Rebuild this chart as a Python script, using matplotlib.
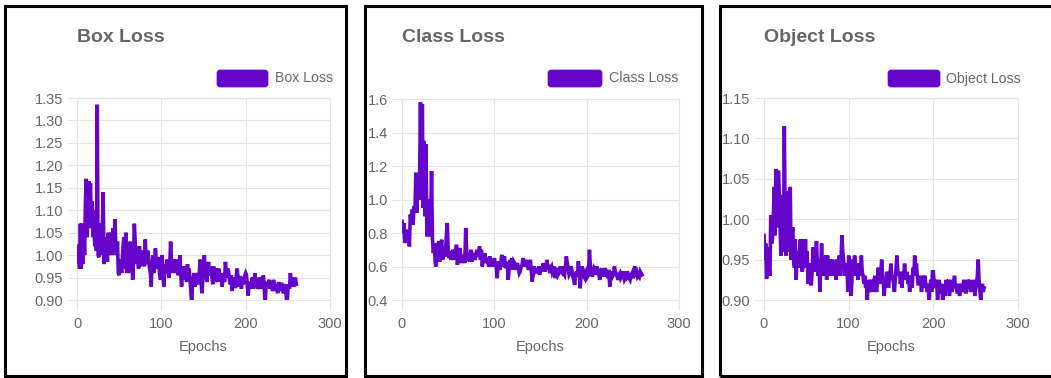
import matplotlib
matplotlib.use("Agg")
import matplotlib.pyplot as plt
from matplotlib.patches import Rectangle, FancyBboxPatch
from matplotlib.transforms import IdentityTransform

# ---------------- data (one value per epoch, epochs 0..260) ----------------
box_loss = [
    1.02, 0.98, 1.02, 0.97, 1.07, 0.97, 1.07, 0.98, 1.05, 1.00,
    1.12, 1.17, 1.04, 1.10, 1.165, 1.12, 1.16, 1.06, 1.12, 1.04,
    1.10, 1.02, 1.05, 1.01, 1.335, 1.00, 0.995, 1.07, 1.03, 1.00,
    1.05, 1.14, 0.98, 1.03, 1.00, 1.04, 0.985, 1.05, 1.00, 1.04,
    1.01, 1.05, 1.00, 1.06, 1.01, 1.08, 1.02, 1.00, 1.03, 0.96,
    0.955, 0.99, 0.98, 0.96, 1.00, 1.03, 1.04, 0.97, 1.05, 0.96,
    1.00, 0.96, 0.99, 1.03, 0.97, 1.00, 0.945, 0.99, 1.07, 1.03,
    0.98, 1.01, 1.00, 0.97, 1.02, 0.975, 1.00, 0.98, 1.01, 0.99,
    0.975, 1.035, 0.98, 1.00, 1.01, 0.99, 0.97, 0.96, 0.93, 0.975,
    1.00, 0.96, 0.98, 1.015, 0.985, 0.97, 0.995, 0.975, 0.96, 0.945,
    0.98, 1.00, 0.96, 0.93, 0.965, 0.98, 0.96, 0.99, 0.97, 0.95,
    0.98, 1.03, 0.99, 0.96, 0.97, 0.99, 0.985, 0.96, 0.99, 0.97,
    0.955, 0.975, 1.00, 0.96, 0.93, 0.96, 0.975, 0.945, 0.96, 0.975,
    0.94, 0.98, 0.955, 0.97, 0.945, 0.92, 0.89, 0.935, 0.95, 0.96,
    0.93, 0.95, 0.96, 0.94, 0.935, 0.96, 0.99, 0.95, 0.915, 0.94,
    0.96, 1.00, 0.96, 0.97, 0.94, 0.965, 0.985, 0.955, 0.96, 0.975,
    0.95, 0.935, 0.975, 0.955, 0.94, 0.97, 0.96, 0.94, 0.97, 0.955,
    0.945, 0.96, 0.93, 0.945, 0.96, 0.94, 0.985, 0.955, 0.95, 0.97,
    0.96, 0.94, 0.935, 0.955, 0.92, 0.94, 0.95, 0.93, 0.93, 0.955,
    0.97, 0.945, 0.93, 0.95, 0.95, 0.925, 0.95, 0.935, 0.94, 0.955,
    0.96, 0.955, 0.93, 0.91, 0.935, 0.94, 0.925, 0.94, 0.95, 0.925,
    0.94, 0.96, 0.935, 0.94, 0.925, 0.93, 0.95, 0.945, 0.925, 0.935,
    0.945, 0.955, 0.93, 0.89, 0.925, 0.94, 0.93, 0.94, 0.945, 0.925,
    0.94, 0.93, 0.92, 0.945, 0.935, 0.92, 0.935, 0.925, 0.915, 0.94,
    0.93, 0.92, 0.935, 0.935, 0.92, 0.915, 0.935, 0.93, 0.91, 0.89,
    0.92, 0.935, 0.925, 0.96, 0.94, 0.93, 0.95, 0.93, 0.945, 0.95,
    0.935]

class_loss = [
    0.87, 0.80, 0.86, 0.74, 0.78, 0.82, 0.76, 0.80, 0.72, 0.91,
    0.86, 0.94, 0.85, 0.96, 0.92, 1.16, 0.92, 1.15, 1.00, 1.10,
    1.58, 1.00, 1.57, 0.95, 1.35, 0.90, 1.33, 0.78, 0.92, 1.00,
    0.78, 0.85, 1.17, 0.76, 0.68, 0.74, 0.62, 0.60, 0.74, 0.66,
    0.75, 0.63, 0.72, 0.76, 0.64, 0.70, 0.72, 0.66, 0.78, 0.86,
    0.70, 0.65, 0.69, 0.64, 0.66, 0.70, 0.68, 0.64, 0.68, 0.73,
    0.61, 0.66, 0.69, 0.71, 0.62, 0.67, 0.64, 0.66, 0.62, 0.83,
    0.70, 0.64, 0.66, 0.63, 0.67, 0.70, 0.63, 0.66, 0.68, 0.64,
    0.66, 0.70, 0.66, 0.69, 0.72, 0.64, 0.70, 0.60, 0.66, 0.63,
    0.68, 0.62, 0.65, 0.62, 0.60, 0.66, 0.63, 0.60, 0.64, 0.60,
    0.65, 0.62, 0.61, 0.53, 0.60, 0.63, 0.58, 0.62, 0.67, 0.60,
    0.62, 0.66, 0.59, 0.62, 0.62, 0.52, 0.58, 0.64, 0.60, 0.65,
    0.58, 0.63, 0.62, 0.58, 0.60, 0.62, 0.59, 0.56, 0.57, 0.60,
    0.61, 0.65, 0.62, 0.60, 0.64, 0.62, 0.60, 0.58, 0.61, 0.64,
    0.58, 0.51, 0.56, 0.60, 0.57, 0.58, 0.58, 0.56, 0.60, 0.55,
    0.58, 0.60, 0.57, 0.62, 0.59, 0.57, 0.60, 0.64, 0.58, 0.61,
    0.56, 0.59, 0.60, 0.56, 0.57, 0.60, 0.53, 0.57, 0.59, 0.55,
    0.56, 0.60, 0.58, 0.57, 0.60, 0.56, 0.55, 0.60, 0.66, 0.62,
    0.59, 0.55, 0.56, 0.60, 0.58, 0.54, 0.52, 0.49, 0.55, 0.57,
    0.54, 0.63, 0.56, 0.47, 0.55, 0.60, 0.58, 0.54, 0.53, 0.57,
    0.58, 0.54, 0.55, 0.70, 0.60, 0.58, 0.54, 0.56, 0.59, 0.58,
    0.55, 0.60, 0.55, 0.58, 0.52, 0.56, 0.59, 0.55, 0.57, 0.54,
    0.59, 0.57, 0.56, 0.53, 0.58, 0.48, 0.55, 0.57, 0.54, 0.55,
    0.60, 0.57, 0.56, 0.54, 0.52, 0.55, 0.56, 0.53, 0.54, 0.57,
    0.55, 0.52, 0.53, 0.57, 0.54, 0.55, 0.53, 0.52, 0.55, 0.56,
    0.53, 0.55, 0.60, 0.56, 0.57, 0.54, 0.55, 0.54, 0.57, 0.56,
    0.55]

object_loss = [
    0.98, 0.95, 0.97, 0.926, 0.94, 0.965, 0.94, 0.93, 1.005, 0.97,
    0.975, 1.00, 1.04, 0.98, 1.062, 1.00, 0.99, 1.06, 1.035, 0.99,
    0.955, 1.02, 1.03, 0.96, 1.115, 1.00, 0.955, 1.00, 0.99, 1.035,
    0.96, 1.04, 0.95, 0.98, 0.99, 0.95, 0.94, 0.975, 0.925, 0.96,
    0.94, 0.955, 0.96, 0.975, 0.95, 0.935, 0.94, 0.975, 0.95, 0.975,
    0.94, 0.96, 0.92, 0.945, 0.935, 0.92, 0.92, 0.94, 0.965, 0.935,
    0.94, 0.955, 0.973, 0.945, 0.93, 0.95, 0.91, 0.94, 0.97, 0.94,
    0.95, 0.93, 0.94, 0.955, 0.925, 0.955, 0.935, 0.93, 0.95, 0.945,
    0.93, 0.95, 0.935, 0.93, 0.945, 0.925, 0.95, 0.93, 0.945, 0.955,
    0.93, 0.95, 0.98, 0.96, 0.95, 0.93, 0.94, 0.93, 0.945, 0.91,
    0.955, 0.93, 0.945, 0.905, 0.93, 0.95, 0.93, 0.955, 0.94, 0.93,
    0.945, 0.925, 0.935, 0.945, 0.93, 0.955, 0.935, 0.93, 0.92, 0.93,
    0.915, 0.92, 0.90, 0.92, 0.925, 0.91, 0.915, 0.925, 0.92, 0.91,
    0.925, 0.93, 0.915, 0.91, 0.925, 0.94, 0.925, 0.92, 0.935, 0.95,
    0.93, 0.92, 0.905, 0.925, 0.92, 0.935, 0.93, 0.915, 0.925, 0.935,
    0.945, 0.925, 0.93, 0.92, 0.91, 0.925, 0.94, 0.955, 0.935, 0.93,
    0.935, 0.92, 0.925, 0.915, 0.935, 0.925, 0.945, 0.93, 0.925, 0.935,
    0.92, 0.93, 0.91, 0.925, 0.93, 0.915, 0.94, 0.93, 0.955, 0.93,
    0.945, 0.93, 0.92, 0.92, 0.93, 0.925, 0.91, 0.92, 0.93, 0.915,
    0.93, 0.92, 0.915, 0.91, 0.92, 0.895, 0.915, 0.925, 0.91, 0.935,
    0.935, 0.92, 0.915, 0.925, 0.92, 0.90, 0.915, 0.925, 0.91, 0.91,
    0.92, 0.895, 0.91, 0.915, 0.905, 0.925, 0.915, 0.92, 0.925, 0.905,
    0.915, 0.925, 0.91, 0.915, 0.92, 0.93, 0.915, 0.92, 0.91, 0.91,
    0.92, 0.905, 0.915, 0.92, 0.91, 0.915, 0.925, 0.92, 0.91, 0.91,
    0.92, 0.925, 0.915, 0.925, 0.91, 0.915, 0.92, 0.91, 0.925, 0.905,
    0.915, 0.92, 0.93, 0.95, 0.925, 0.91, 0.90, 0.915, 0.92, 0.91,
    0.915]

titles = ["Box Loss", "Class Loss", "Object Loss"]
x_ticks = [0, 100, 200, 300]
box_yticks = [0.90, 0.95, 1.00, 1.05, 1.10, 1.15, 1.20, 1.25, 1.30, 1.35]
class_yticks = [0.4, 0.6, 0.8, 1.0, 1.2, 1.4, 1.6]
object_yticks = [0.90, 0.95, 1.00, 1.05, 1.10, 1.15]

# ---------------- style ----------------
W, H = 1051, 378
LINE = "#6505cc"
TXT = "#666666"
GRID = "#e4e4e4"
plt.rcParams["font.family"] = ["Liberation Sans", "DejaVu Sans"]

fig = plt.figure(figsize=(W / 100, H / 100), dpi=100)
fig.patch.set_facecolor("white")


def px(x, y):
    return x, H - y


# panel frames (x0, y0, x1, y1 in image pixels)
frames = [(5, 5.5, 346, 376), (364.5, 5.5, 701.5, 376), (719.5, 5.5, 1060, 376)]
for (x0, y0, x1, y1) in frames:
    fig.add_artist(Rectangle(px(x0, y1), x1 - x0, y1 - y0, fill=False, edgecolor="black",
                             linewidth=2.2, transform=IdentityTransform(), zorder=10))

# axes rects in image pixels: left, top, right, bottom
axes_px = [(77, 98, 330, 300), (402, 99, 679, 300), (764, 98, 1018, 300)]
series = [(box_loss, box_yticks, "{:.2f}"),
          (class_loss, class_yticks, "{:.1f}"),
          (object_loss, object_yticks, "{:.2f}")]
legend_px = [(217, 268, 275), (548, 602, 609), (888, 940, 946)]

for (l, t, r, b), (vals, yt, fmt), title, (lb0, lb1, lt) in zip(
        axes_px, series, titles, legend_px):
    epochs = list(range(len(vals)))
    ax = fig.add_axes([l / W, (H - b) / H, (r - l) / W, (b - t) / H])
    ax.plot(epochs, vals, color=LINE, linewidth=2.6, solid_joinstyle="miter", zorder=3)
    ax.set_xlim(0, 300)
    ax.set_ylim(yt[0], yt[-1])
    ax.set_xticks(x_ticks)
    ax.set_xticklabels([str(v) for v in x_ticks])
    ax.set_yticks(yt)
    ax.set_yticklabels([fmt.format(v) for v in yt])
    ax.grid(True, color=GRID, linewidth=0.8, zorder=0)
    ax.set_axisbelow(True)
    for s in ax.spines.values():
        s.set_color(GRID)
        s.set_linewidth(0.8)
    ax.tick_params(axis="both", colors=GRID, length=7, width=0.8, labelcolor=TXT, labelsize=10.5)
    ax.tick_params(axis="y", pad=3)
    ax.tick_params(axis="x", pad=5)
    ax.set_xlabel("Epochs", color=TXT, fontsize=10.5, labelpad=7)

    # title
    fig.text(l / W, (H - 42) / H, title, fontsize=14, fontweight="bold", color=TXT,
             ha="left", va="baseline")
    # legend
    fig.add_artist(FancyBboxPatch(px(lb0, 87), lb1 - lb0, 17,
                                  boxstyle="round,pad=0,rounding_size=3",
                                  facecolor=LINE, edgecolor=LINE, linewidth=0.5,
                                  transform=IdentityTransform()))
    fig.text(lt / W, (H - 78.5) / H, title, fontsize=10.2, color=TXT, ha="left", va="center")

fig.savefig("out.png", dpi=100, facecolor="white")
